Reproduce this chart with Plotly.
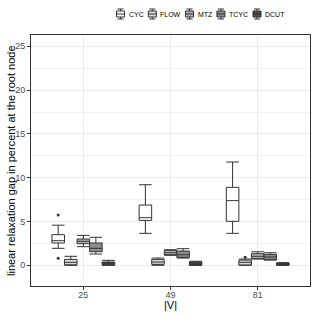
import plotly.graph_objects as go

categories = ["25", "49", "81"]
methods = ["CYC", "FLOW", "MTZ", "TCYC", "DCUT"]
fills = ["#ffffff", "#d9d9d9", "#b3b3b3", "#8c8c8c", "#4d4d4d"]

lower = {
    "CYC":  [1.94, 3.65, 3.65],
    "FLOW": [0.00, 0.00, 0.00],
    "MTZ":  [2.13, 1.14, 0.72],
    "TCYC": [1.29, 0.83, 0.60],
    "DCUT": [0.00, 0.00, 0.00],
}
q1 = {
    "CYC":  [2.55, 5.13, 5.02],
    "FLOW": [0.05, 0.11, 0.03],
    "MTZ":  [2.47, 1.21, 0.76],
    "TCYC": [1.56, 0.91, 0.64],
    "DCUT": [0.02, 0.02, 0.02],
}
median = {
    "CYC":  [2.81, 5.44, 7.38],
    "FLOW": [0.34, 0.38, 0.34],
    "MTZ":  [2.74, 1.44, 1.03],
    "TCYC": [1.94, 1.21, 0.95],
    "DCUT": [0.23, 0.15, 0.15],
}
q3 = {
    "CYC":  [3.50, 6.88, 8.90],
    "FLOW": [0.68, 0.68, 0.60],
    "MTZ":  [3.00, 1.71, 1.33],
    "TCYC": [2.55, 1.63, 1.25],
    "DCUT": [0.38, 0.38, 0.26],
}
upper = {
    "CYC":  [4.58, 9.20, 11.79],
    "FLOW": [1.03, 0.83, 0.72],
    "MTZ":  [3.42, 1.78, 1.55],
    "TCYC": [3.20, 1.90, 1.44],
    "DCUT": [0.57, 0.46, 0.30],
}
# outlier points per category (None = no outlier)
outliers = {
    "CYC":  [[5.74, 0.80], [None], [None]],
    "FLOW": [[None], [None], [0.91]],
}

y_ticks = [0, 5, 10, 15, 20, 25]

fig = go.Figure()
for m, c in zip(methods, fills):
    kw = {}
    if m in outliers:
        kw["y"] = outliers[m]
        kw["boxpoints"] = "outliers"
    else:
        kw["boxpoints"] = False
    fig.add_trace(go.Box(
        name=m,
        x=categories,
        q1=q1[m], median=median[m], q3=q3[m],
        lowerfence=lower[m], upperfence=upper[m],
        jitter=0, pointpos=0,
        fillcolor=c,
        line=dict(color="#333333", width=1),
        marker=dict(color="#333333", size=3, line=dict(width=0)),
        whiskerwidth=1,
        showlegend=False,
        **kw,
    ))

# ---- custom compact legend (layout only) ----
W, H = 315, 315
ml, mr, mt, mb = 31, 5, 35, 29
pw, ph = W - ml - mr, H - mt - mb
def px_x(x):
    return (x - ml) / pw
def px_y(y):
    return (H - mb - y) / ph

em = {"C": 0.722, "Y": 0.667, "F": 0.611, "L": 0.556, "O": 0.778, "W": 0.944,
      "M": 0.833, "T": 0.611, "Z": 0.611, "D": 0.722, "U": 0.722}
leg_font = 7
def text_width(s):
    return sum(em[ch] for ch in s) * leg_font

icon_w, icon_gap, item_gap = 8, 3, 6
total = sum(icon_w + icon_gap + text_width(m) for m in methods) + item_gap * (len(methods) - 1)
cx = 200
x = cx - total / 2
yc = 14
shapes, annotations = [], []
for m, c in zip(methods, fills):
    x0, x1 = x, x + icon_w
    xm = (x0 + x1) / 2
    line = dict(color="#333333", width=1)
    shapes.append(dict(type="line", xref="paper", yref="paper", x0=px_x(xm), x1=px_x(xm),
                       y0=px_y(yc - 5), y1=px_y(yc + 5), line=line))
    shapes.append(dict(type="line", xref="paper", yref="paper", x0=px_x(x0 + 1), x1=px_x(x1 - 1),
                       y0=px_y(yc - 5), y1=px_y(yc - 5), line=line))
    shapes.append(dict(type="line", xref="paper", yref="paper", x0=px_x(x0 + 1), x1=px_x(x1 - 1),
                       y0=px_y(yc + 5), y1=px_y(yc + 5), line=line))
    shapes.append(dict(type="rect", xref="paper", yref="paper", x0=px_x(x0), x1=px_x(x1),
                       y0=px_y(yc - 3), y1=px_y(yc + 3), line=line, fillcolor=c))
    shapes.append(dict(type="line", xref="paper", yref="paper", x0=px_x(x0), x1=px_x(x1),
                       y0=px_y(yc), y1=px_y(yc), line=line))
    annotations.append(dict(text=m, xref="paper", yref="paper", x=px_x(x1 + icon_gap), y=px_y(yc),
                            xanchor="left", yanchor="middle", showarrow=False, borderpad=0,
                            font=dict(size=leg_font, color="#000000")))
    x = x1 + icon_gap + text_width(m) + item_gap

annotations.append(dict(text="|V|", xref="paper", yref="paper", x=0.5, y=px_y(305),
                        xanchor="center", yanchor="middle", showarrow=False,
                        font=dict(size=11, color="#000000")))
annotations.append(dict(text="linear relaxation gap in percent at the root node",
                        xref="paper", yref="paper", x=px_x(10.5), y=0.5, textangle=-90,
                        xanchor="center", yanchor="middle", showarrow=False,
                        font=dict(size=11, color="#000000")))

fig.update_layout(
    width=W, height=H,
    boxmode="group", boxgap=0.28, boxgroupgap=0,
    plot_bgcolor="white", paper_bgcolor="white",
    margin=dict(l=ml, r=mr, t=mt, b=mb, autoexpand=False),
    font=dict(family="Liberation Sans, Arial, sans-serif", size=9, color="#000000"),
    showlegend=False,
    shapes=shapes,
    annotations=annotations,
)

fig.update_xaxes(
    type="category", range=[-0.6, 2.6],
    showgrid=True, gridcolor="#ebebeb", gridwidth=1,
    showline=True, mirror=True, linecolor="#333333", linewidth=1,
    ticks="outside", ticklen=3, tickcolor="#333333",
    tickfont=dict(size=9, color="#4d4d4d"), ticklabelstandoff=-3,
    zeroline=False, automargin=False,
)
fig.update_yaxes(
    range=[-2.36, 26.29],
    tickvals=y_ticks, ticktext=[str(t) for t in y_ticks],
    showgrid=True, gridcolor="#ebebeb", gridwidth=1,
    minor=dict(dtick=2.5, tick0=0, showgrid=True, gridcolor="#f3f3f3", gridwidth=0.6),
    showline=True, mirror=True, linecolor="#333333", linewidth=1,
    ticks="outside", ticklen=3, tickcolor="#333333",
    tickfont=dict(size=9, color="#4d4d4d"),
    zeroline=False, automargin=False,
)

fig.write_html("out.html", config={"displayModeBar": False},
               post_script="document.body.style.margin='0';")
